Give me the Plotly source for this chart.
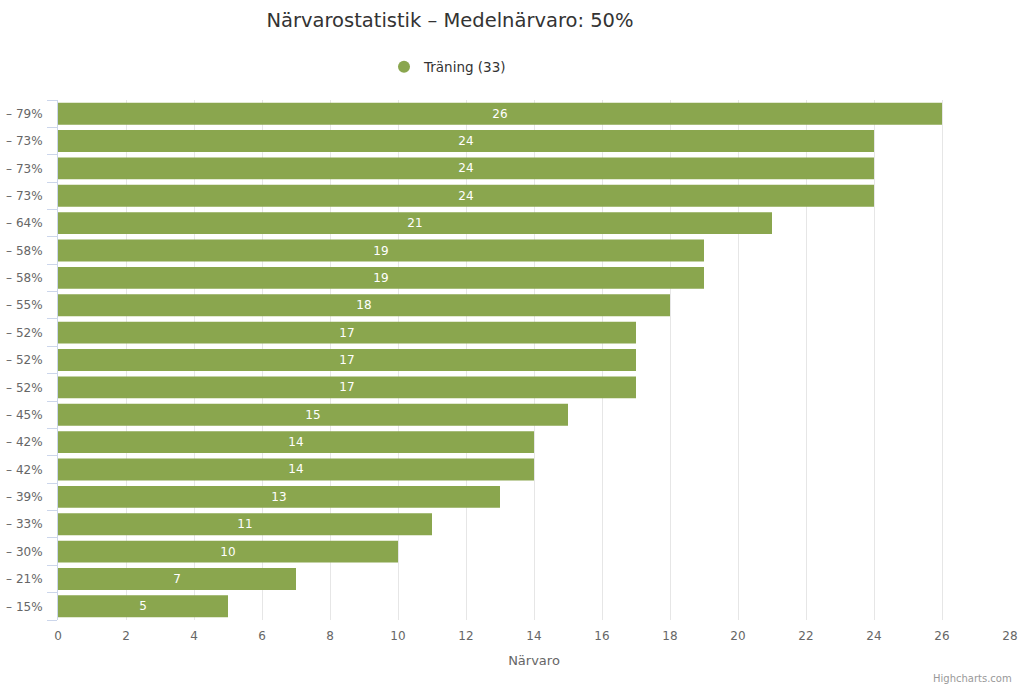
import plotly.graph_objects as go

title_text = "Närvarostatistik – Medelnärvaro: 50%"
series_name = "Träning (33)"
pct_labels = ["79%", "73%", "73%", "73%", "64%", "58%", "58%", "55%", "52%", "52%",
              "52%", "45%", "42%", "42%", "39%", "33%", "30%", "21%", "15%"]
values = [26, 24, 24, 24, 21, 19, 19, 18, 17, 17, 17, 15, 14, 14, 13, 11, 10, 7, 5]
x_ticks = list(range(0, 29, 2))

FONT = "DejaVu Sans"
BAR = "#8aa64e"
n = len(values)
ypos = list(range(n))
labels = ["– " + p for p in pct_labels]

fig = go.Figure()
fig.add_trace(go.Bar(
    x=values, y=ypos, orientation="h", marker=dict(color=BAR, line=dict(width=0)),
    text=[str(v) for v in values], textposition="inside", insidetextanchor="middle",
    textfont=dict(color="white", size=12, family=FONT), showlegend=False,
    hoverinfo="x", yaxis="y"))
fig.add_trace(go.Scatter(
    x=[None], y=[None], mode="markers", name=series_name,
    marker=dict(symbol="circle", size=13, color=BAR), showlegend=True))
# invisible helper trace on the secondary axis for boundary tick marks
fig.add_trace(go.Scatter(x=[None], y=[None], yaxis="y2", showlegend=False, hoverinfo="skip"))

fig.update_layout(
    width=1024, height=688,
    margin=dict(l=58, r=14, t=100, b=68, autoexpand=False),
    paper_bgcolor="white", plot_bgcolor="white",
    font=dict(family=FONT, color="#666666", size=12),
    title=dict(text=title_text, x=450 / 1024, xanchor="center", y=1 - 20 / 688,
               yanchor="middle", font=dict(size=19.5, color="#333333", family=FONT)),
    bargap=0.2,
    showlegend=True,
    legend=dict(orientation="h", xref="container", yref="container",
                x=448 / 1024, xanchor="center", y=1 - 67 / 688, yanchor="middle",
                font=dict(size=13.5, color="#333333", family=FONT), bgcolor="rgba(0,0,0,0)",
                itemsizing="constant"),
    xaxis=dict(range=[0, 28], tickvals=x_ticks, showgrid=True, gridcolor="#e6e6e6",
               gridwidth=1, zeroline=False, showline=False, ticks="outside", ticklen=5,
               tickcolor="rgba(0,0,0,0)", automargin=False,
               tickfont=dict(size=12, color="#666666"),
               title=dict(text="Närvaro", font=dict(size=13, color="#666666"), standoff=13)),
    yaxis=dict(range=[n - 0.5, -0.5], tickvals=ypos, ticktext=labels, showgrid=False,
               zeroline=False, showline=True, linecolor="#ccd6eb", linewidth=1,
               ticks="outside", ticklen=12, tickcolor="rgba(0,0,0,0)", automargin=False,
               tickfont=dict(size=12, color="#666666")),
    yaxis2=dict(range=[n - 0.5, -0.5], overlaying="y", side="left",
                tickvals=[i - 0.5 for i in range(n + 1)], showticklabels=False,
                ticks="outside", ticklen=10, tickcolor="#ccd6eb", showgrid=False,
                zeroline=False, showline=False, automargin=False),
    annotations=[dict(text="Highcharts.com", xref="paper", yref="paper",
                      x=1 + 4 / 952, xanchor="right", y=-(678 - 620) / 520, yanchor="middle",
                      showarrow=False, font=dict(size=10, color="#999999", family=FONT))],
)

fig.write_html("out.html", config={"displayModeBar": False},
               post_script="document.body.style.margin='0';")
